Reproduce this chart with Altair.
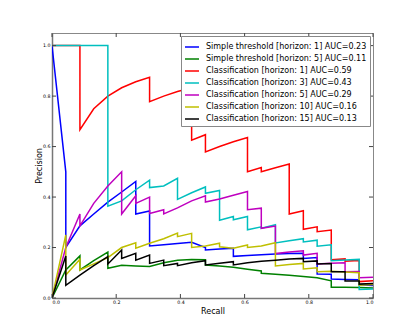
import altair as alt
import pandas as pd

# ---- data ----
series_names = [
    "Simple threshold [horizon: 1] AUC=0.23",
    "Simple threshold [horizon: 5] AUC=0.11",
    "Classification [horizon: 1] AUC=0.59",
    "Classification [horizon: 3] AUC=0.43",
    "Classification [horizon: 5] AUC=0.29",
    "Classification [horizon: 10] AUC=0.16",
    "Classification [horizon: 15] AUC=0.13",
]
series_colors = ["#0000ff", "#008000", "#ff0000", "#00bfbf", "#bf00bf", "#bfbf00", "#000000"]

blue_recall = [0.0, 0.043, 0.043, 0.087, 0.13, 0.174, 0.217, 0.261, 0.261, 0.304, 0.304, 0.348, 0.391, 0.435,
               0.478, 0.478, 0.522, 0.565, 0.565, 0.609, 0.652, 0.696, 0.739, 0.783, 0.783, 0.826, 0.826,
               0.87, 0.87, 0.913, 0.957, 0.957, 1.0]
blue_precision = [1.0, 0.5, 0.2, 0.286, 0.333, 0.38, 0.42, 0.462, 0.333, 0.345, 0.206, 0.211, 0.216, 0.221,
                  0.2, 0.19, 0.194, 0.197, 0.165, 0.168, 0.171, 0.174, 0.176, 0.177, 0.157, 0.16, 0.095,
                  0.094, 0.075, 0.073, 0.072, 0.052, 0.05]

green_recall = [0.0, 0.043, 0.087, 0.087, 0.13, 0.174, 0.174, 0.217, 0.261, 0.304, 0.348, 0.391, 0.435,
                0.478, 0.478, 0.522, 0.565, 0.609, 0.652, 0.652, 0.696, 0.739, 0.783, 0.826, 0.87, 0.87,
                0.913, 0.957, 1.0]
green_precision = [0.0, 0.111, 0.167, 0.111, 0.148, 0.182, 0.118, 0.13, 0.127, 0.125, 0.14, 0.15, 0.153,
                   0.152, 0.131, 0.127, 0.122, 0.114, 0.107, 0.098, 0.094, 0.09, 0.085, 0.08, 0.068, 0.043,
                   0.043, 0.042, 0.04]

red_recall = [0.0, 0.043, 0.087, 0.087, 0.13, 0.174, 0.217, 0.261, 0.304, 0.304, 0.348, 0.391, 0.435, 0.435,
              0.478, 0.478, 0.522, 0.565, 0.609, 0.609, 0.652, 0.652, 0.696, 0.739, 0.739, 0.783, 0.783,
              0.826, 0.826, 0.87, 0.87, 0.913, 0.913, 0.957, 0.957, 1.0]
red_precision = [1.0, 1.0, 1.0, 0.667, 0.75, 0.8, 0.833, 0.857, 0.875, 0.778, 0.8, 0.818, 0.833, 0.625,
                 0.647, 0.579, 0.6, 0.619, 0.636, 0.5, 0.517, 0.5, 0.516, 0.531, 0.333, 0.346, 0.272,
                 0.282, 0.263, 0.269, 0.152, 0.155, 0.146, 0.149, 0.065, 0.068]

cyan_recall = [0.0, 0.174, 0.174, 0.217, 0.261, 0.304, 0.304, 0.348, 0.391, 0.391, 0.435, 0.478, 0.478,
               0.522, 0.522, 0.565, 0.565, 0.609, 0.609, 0.652, 0.652, 0.696, 0.696, 0.739, 0.783, 0.783,
               0.826, 0.826, 0.87, 0.87, 0.913, 0.957, 0.957, 1.0]
cyan_precision = [1.0, 1.0, 0.364, 0.385, 0.429, 0.467, 0.4375, 0.444, 0.474, 0.391, 0.417, 0.44, 0.415,
                  0.426, 0.308, 0.323, 0.31, 0.323, 0.27, 0.282, 0.276, 0.29, 0.218, 0.227, 0.235, 0.222,
                  0.229, 0.205, 0.211, 0.148, 0.151, 0.153, 0.034, 0.036]

magenta_recall = [0.0, 0.043, 0.087, 0.087, 0.13, 0.174, 0.217, 0.217, 0.261, 0.261, 0.304, 0.304, 0.348,
                  0.348, 0.391, 0.435, 0.478, 0.478, 0.522, 0.565, 0.609, 0.609, 0.652, 0.652, 0.696,
                  0.696, 0.739, 0.783, 0.783, 0.826, 0.826, 0.87, 0.913, 0.913, 0.957, 0.957, 1.0]
magenta_precision = [0.0, 0.2, 0.333, 0.286, 0.375, 0.444, 0.5, 0.333, 0.405, 0.375, 0.4, 0.335, 0.35,
                     0.333, 0.357, 0.385, 0.405, 0.38, 0.392, 0.407, 0.422, 0.35, 0.356, 0.276, 0.285,
                     0.176, 0.182, 0.187, 0.17, 0.177, 0.135, 0.138, 0.14, 0.104, 0.105, 0.08, 0.082]

yellow_recall = [0.0, 0.043, 0.043, 0.087, 0.087, 0.13, 0.174, 0.217, 0.261, 0.261, 0.304, 0.348, 0.391,
                 0.391, 0.435, 0.435, 0.478, 0.522, 0.522, 0.565, 0.609, 0.609, 0.652, 0.696, 0.696, 0.739,
                 0.783, 0.783, 0.826, 0.826, 0.87, 0.913, 0.957, 0.957, 1.0]
yellow_precision = [0.0, 0.25, 0.091, 0.154, 0.111, 0.135, 0.16, 0.2, 0.219, 0.197, 0.217, 0.235, 0.257,
                    0.243, 0.256, 0.2, 0.206, 0.217, 0.203, 0.197, 0.21, 0.2, 0.206, 0.219, 0.127, 0.133,
                    0.137, 0.115, 0.12, 0.104, 0.106, 0.103, 0.1, 0.051, 0.053]

black_recall = [0.0, 0.043, 0.043, 0.087, 0.13, 0.174, 0.174, 0.217, 0.217, 0.261, 0.261, 0.304, 0.304,
                0.348, 0.348, 0.391, 0.391, 0.435, 0.478, 0.478, 0.522, 0.565, 0.565, 0.609, 0.652, 0.696,
                0.739, 0.783, 0.783, 0.826, 0.826, 0.87, 0.87, 0.913, 0.913, 0.957, 0.957, 1.0]
black_precision = [0.0, 0.166, 0.05, 0.091, 0.128, 0.164, 0.135, 0.19, 0.157, 0.177, 0.15, 0.17, 0.137,
                   0.15, 0.128, 0.137, 0.128, 0.14, 0.148, 0.131, 0.138, 0.144, 0.131, 0.14, 0.146, 0.15,
                   0.155, 0.157, 0.144, 0.147, 0.135, 0.137, 0.104, 0.104, 0.067, 0.067, 0.055, 0.057]

tick_values = [0.0, 0.2, 0.4, 0.6, 0.8, 1.0]

all_recall = [blue_recall, green_recall, red_recall, cyan_recall, magenta_recall, yellow_recall, black_recall]
all_precision = [blue_precision, green_precision, red_precision, cyan_precision, magenta_precision,
                 yellow_precision, black_precision]

W, H = 321, 265
FONT = "DejaVu Sans"

x_scale = alt.Scale(domain=[0, 1], nice=False, zero=False)
y_scale = alt.Scale(domain=[0, 1.05], nice=False, zero=False)
color_scale = alt.Scale(domain=series_names, range=series_colors)

layers = []
for i, (name, rec, prec) in enumerate(zip(series_names, all_recall, all_precision)):
    df = pd.DataFrame({"recall": rec, "precision": prec, "series": name, "idx": range(len(rec))})
    enc = dict(
        x=alt.X("recall:Q", scale=x_scale,
                axis=alt.Axis(title="Recall", values=tick_values, format=".1f", ticks=False,
                              grid=False, labelFontSize=4.7, labelFont=FONT, labelPadding=1,
                              labelColor="#000", domainColor="#777", domainWidth=1.5,
                              titleFont=FONT, titleFontSize=8, titleFontWeight="normal",
                              titleColor="#000", titleY=15, titleBaseline="alphabetic")),
        y=alt.Y("precision:Q", scale=y_scale,
                axis=alt.Axis(title="Precision", values=tick_values, format=".1f", ticks=False,
                              grid=False, labelFontSize=4.7, labelFont=FONT, labelPadding=2,
                              labelColor="#000", domainColor="#777", domainWidth=1.5,
                              titleFont=FONT, titleFontSize=8, titleFontWeight="normal",
                              titleColor="#000", titleX=-13, titleY=H / 2, titleAngle=270,
                              titleAlign="center", titleBaseline="middle")),
        color=alt.Color("series:N", scale=color_scale,
                        legend=alt.Legend(title=None, orient="top-right", offset=3, padding=3,
                                          fillColor="white", strokeColor="#888",
                                          symbolType="stroke", symbolSize=196, symbolStrokeWidth=1.5,
                                          labelFontSize=8, labelFont=FONT, labelColor="#000",
                                          labelOffset=6, labelLimit=400, rowPadding=0,
                                          symbolOpacity=1)),
        order="idx:Q",
    )
    layers.append(alt.Chart(df).mark_line(strokeWidth=1.5, clip=True).encode(**enc))

ticks_x = pd.DataFrame({"recall": tick_values})
ticks_y = pd.DataFrame({"precision": tick_values})
tick_color = "#444"
tick_len = 4
layers += [
    alt.Chart(ticks_x).mark_rule(color=tick_color, strokeWidth=1).encode(
        x=alt.X("recall:Q", scale=x_scale), y=alt.value(H), y2=alt.value(H - tick_len)),
    alt.Chart(ticks_x).mark_rule(color=tick_color, strokeWidth=1).encode(
        x=alt.X("recall:Q", scale=x_scale), y=alt.value(0), y2=alt.value(tick_len)),
    alt.Chart(ticks_y).mark_rule(color=tick_color, strokeWidth=1).encode(
        y=alt.Y("precision:Q", scale=y_scale), x=alt.value(0), x2=alt.value(tick_len)),
    alt.Chart(ticks_y).mark_rule(color=tick_color, strokeWidth=1).encode(
        y=alt.Y("precision:Q", scale=y_scale), x=alt.value(W), x2=alt.value(W - tick_len)),
]

chart = alt.layer(*layers).properties(
    width=W, height=H,
    autosize=alt.AutoSizeParams(type="none"),
    padding={"left": 44, "top": 25, "right": 30, "bottom": 24},
    background="white",
).configure_view(stroke="#888", strokeWidth=1)

chart.save("out.html", embed_options={"renderer": "svg", "actions": False})
